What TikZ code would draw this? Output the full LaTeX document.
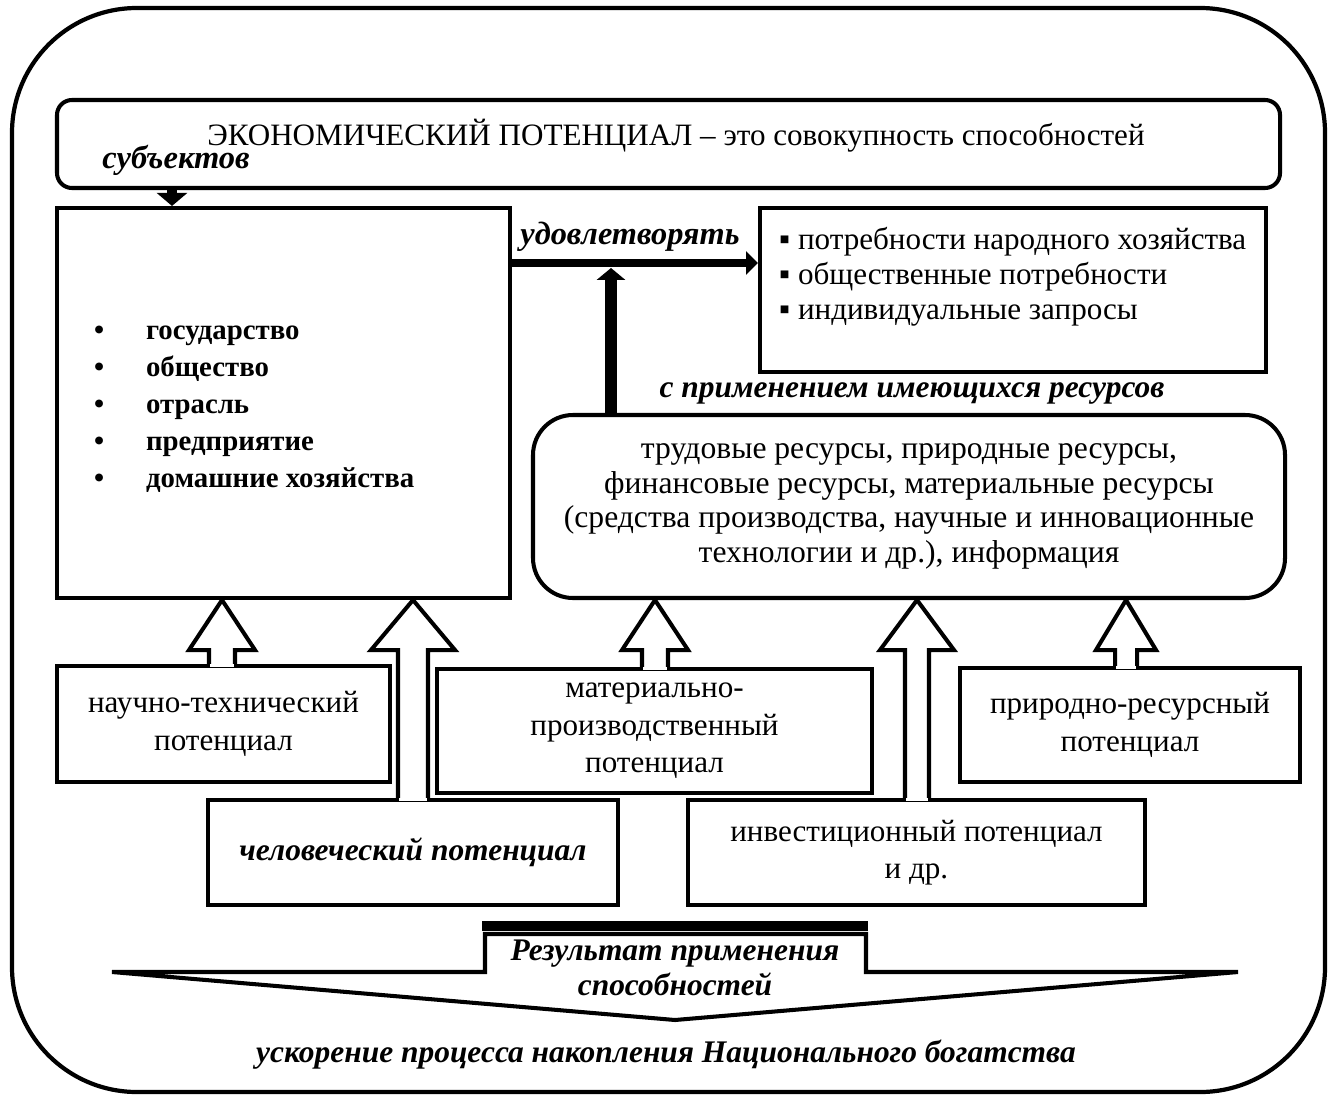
\documentclass[tikz,border=0pt]{standalone}
\usepackage{fontspec}
\setmainfont{Liberation Serif}
\usetikzlibrary{arrows.meta}
\usetikzlibrary{calc}

% block arrow pointing up: x, head half width, shaft half width, from node, to node
\newcommand{\upblock}[5]{%
  \fill[white] ($(#1-#3+1,0 |- #4.north)+(0,-3)$) rectangle ($(#1+#3-1,0 |- #4.north)+(0,3)$);
  \draw[blockarr] (#1-#3,0 |- #4.north)
    -- ($(#1-#3,0 |- #5.south)+(0,50)$) -- ($(#1-#2,0 |- #5.south)+(0,50)$)
    -- (#1,0 |- #5.south)
    -- ($(#1+#2,0 |- #5.south)+(0,50)$) -- ($(#1+#3,0 |- #5.south)+(0,50)$)
    -- (#1+#3,0 |- #4.north);
}

\begin{document}
\begin{tikzpicture}[x=0.02cm,y=-0.02cm,
  every node/.style={font=\fontsize{17.7}{21.3}\selectfont},
  box/.style={rectangle,draw,line width=2.3pt,fill=white,inner sep=0pt},
  rbox/.style={box,rounded corners=#1},
  boxsize/.style 2 args={minimum width=#1*0.02cm,minimum height=#2*0.02cm},
  lbl/.style={font=\fontsize{17.9}{21}\selectfont\bfseries\itshape},
  boldlist/.style={font=\fontsize{16.4}{21}\selectfont\bfseries,align=left,anchor=west},
  blockarr/.style={line width=2.3pt,fill=white,line join=miter},
  thickarr/.style={line width=5.1pt,-{Triangle[length=6.8pt,width=13pt]}},
  uparr/.style={line width=6.8pt,-{Triangle[length=6.8pt,width=16pt]}},
  downarr/.style={line width=5.7pt,-{Triangle[length=7.4pt,width=17pt]}}
  ]

\useasboundingbox (0,0) rectangle (1337,1101);
\draw[line width=2.4pt,rounded corners=2.5cm] (12,8) rectangle (1325,1092);

\node[rbox=0.3cm,boxsize={1223}{88}] (top) at (668.5,144) {};
\node (toptext) at (676,136) {ЭКОНОМИЧЕСКИЙ ПОТЕНЦИАЛ – это совокупность способностей};
\node[lbl,font=\fontsize{18.5}{21}\selectfont\bfseries\itshape] (subj) at (176,160) {субъектов};

\node[box,boxsize={453}{390}] (leftbox) at (283.5,403) {};
\node[boldlist] (subjlist) at (88,409) {•\hspace{1.45em}государство\\•\hspace{1.45em}общество\\•\hspace{1.45em}отрасль\\•\hspace{1.45em}предприятие\\•\hspace{1.45em}домашние хозяйства};

\node[box,boxsize={506}{164}] (needs) at (1013,290) {};
\node[anchor=west,align=left,font=\fontsize{17.7}{19.8}\selectfont] (needlist) at (773,277) {▪ потребности народного хозяйства\\▪ общественные потребности\\▪ индивидуальные запросы};

\node[rbox=0.8cm,boxsize={752}{183},align=center,font=\fontsize{18}{19.8}\selectfont] (res) at (909,506.5) {трудовые ресурсы, природные ресурсы,\\финансовые ресурсы, материальные ресурсы\\(средства производства, научные и инновационные\\технологии и др.), информация};

\node[lbl,font=\fontsize{18.4}{21}\selectfont\bfseries\itshape] (satisfy) at (630,237) {удовлетворять};
\node[lbl] (using) at (912,393) {с применением имеющихся ресурсов};

\draw[downarr] (top.south -| 172,0) -- (leftbox.north -| 172,0);
\draw[thickarr] (leftbox.east |- 0,263) -- (needs.west |- 0,263);
\coordinate (meet) at (611,268);
\draw[uparr] (res.north -| meet) -- (meet);

% potentials
\node[box,boxsize={333}{116},align=center] (sci) at (223.5,724) {научно-технический\\потенциал};
\node[box,boxsize={435}{124},align=center] (mat) at (654.5,731) {материально-\\производственный\\потенциал};
\node[box,boxsize={340}{114},align=center] (nat) at (1130,725) {природно-ресурсный\\потенциал};
\node[box,boxsize={410}{105},lbl] (hum) at (413,852.5) {человеческий потенциал};
\node[box,boxsize={457}{105},align=center] (inv) at (916.5,852.5) {инвестиционный потенциал\\и др.};

\upblock{222}{33}{13}{sci}{leftbox}
\upblock{413}{42}{15}{hum}{leftbox}
\upblock{655}{33}{13}{mat}{res}
\upblock{917}{37}{12}{inv}{res}
\upblock{1126}{30}{11}{nat}{res}

% result
\fill (482,921) rectangle (868,931);
\draw[line width=2.3pt,line join=miter] (112,972) -- (485,972) -- (485,934) -- (866,934) -- (866,972) -- (1238,972) -- (675,1020) -- cycle;
\node[lbl,align=center,font=\fontsize{17.9}{19.8}\selectfont\bfseries\itshape] (result) at (675,968) {Результат применения\\способностей};
\node[lbl] (wealth) at (666,1055) {ускорение процесса накопления Национального богатства};

\end{tikzpicture}
\end{document}
